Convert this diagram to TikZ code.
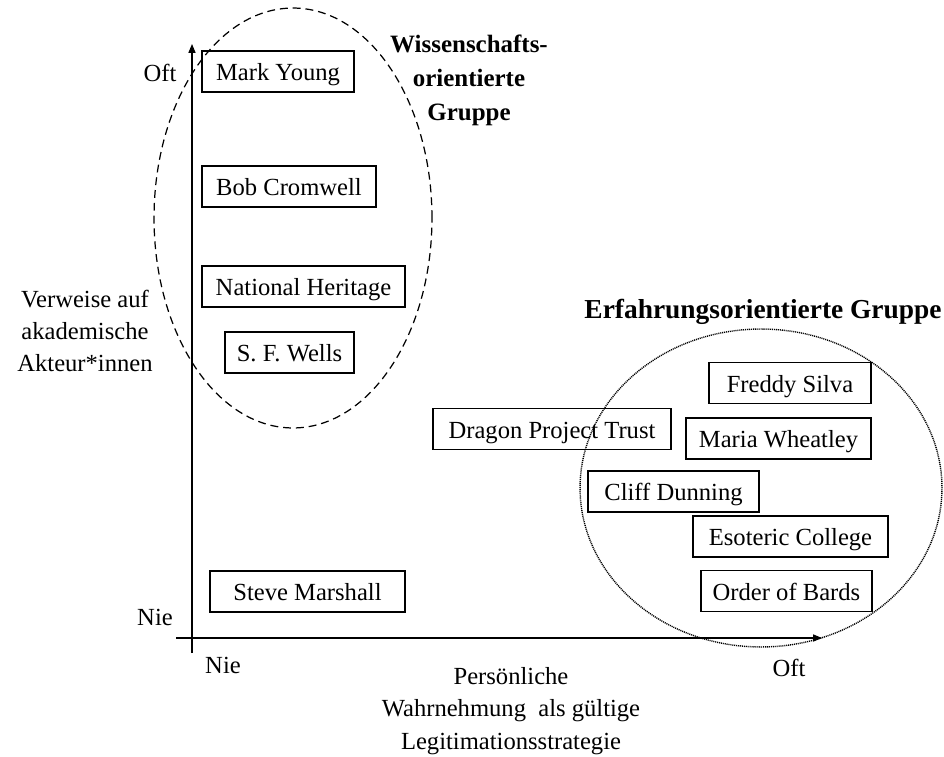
\documentclass[tikz,border=0pt]{standalone}
\usepackage{fontspec}
\setmainfont{Liberation Serif}
\usetikzlibrary{arrows.meta}
\begin{document}
\begin{tikzpicture}[x=0.02cm,y=-0.02cm,
  pbox/.style={draw, line width=0.7pt, inner sep=0pt, minimum height=0.82cm, text height=14pt, text depth=3.2pt, font=\fontsize{14}{18}\selectfont},
  lbl/.style={inner sep=0pt, align=center, font=\fontsize{14}{18.2}\selectfont},
  ttl/.style={inner sep=0pt, align=center, font=\fontsize{14.2}{19.3}\selectfont\bfseries},
  axisline/.style={line width=0.6pt, -{Triangle[length=5pt, width=4pt]}},
  sciring/.style={line width=0.7pt, dash pattern=on 4.5pt off 2.8pt},
  expring/.style={line width=0.8pt, dash pattern=on 0.6pt off 0.5pt}]
\useasboundingbox (0,0) rectangle (944,757);

% axes
\coordinate (ybot) at (192,653);
\coordinate (ytop) at (192,44);
\coordinate (xleft) at (176,638);
\coordinate (xright) at (822,638);
\draw[axisline] (ybot) -- (ytop);
\draw[axisline] (xleft) -- (xright);

% axis labels
\node[lbl] (yoft) at (160,73) {Oft};
\node[lbl] (ynie) at (155,617) {Nie};
\node[lbl] (xnie) at (223,665) {Nie};
\node[lbl] (xoft) at (789,668) {Oft};
\node[lbl] (ytitle) at (85,331) {Verweise auf\\akademische\\Akteur*innen};
\node[lbl, font=\fontsize{14}{18.5}\selectfont] (xtitle) at (511,711) {Persönliche\\Wahrnehmung\ \ als gültige\\Legitimationsstrategie};

% boxes
\node[pbox, minimum width=3.04cm] (my) at (278,71.5) {Mark Young};
\node[pbox, minimum width=3.48cm] (bc) at (289,186.5) {Bob Cromwell};
\node[pbox, minimum width=4.06cm] (nh) at (303.5,286.5) {National Heritage};
\node[pbox, minimum width=2.58cm] (sfw) at (289.5,352.5) {S. F. Wells};
\node[pbox, minimum width=3.90cm] (sm) at (307.5,591.5) {Steve Marshall};
\node[pbox, minimum width=4.76cm] (dpt) at (552,429) {Dragon Project Trust};
\node[pbox, minimum width=3.24cm] (fs) at (790,383) {Freddy Silva};
\node[pbox, minimum width=3.70cm] (mw) at (778.5,438.5) {Maria Wheatley};
\node[pbox, minimum width=3.42cm] (cd) at (673.5,491.5) {Cliff Dunning};
\node[pbox, minimum width=3.90cm] (ec) at (790.5,536.5) {Esoteric College};
\node[pbox, minimum width=3.42cm] (ob) at (786.5,591) {Order of Bards};

% groups
\draw[sciring] (293,218) ellipse [x radius=2.78cm, y radius=4.2cm];
\draw[expring] (761,488) ellipse [x radius=3.62cm, y radius=3.18cm];
\node[ttl] (scit) at (469,80) {Wissenschafts-\\orientierte\\Gruppe};
\node[ttl, font=\fontsize{15.6}{19}\selectfont\bfseries] (expt) at (763,312) {Erfahrungsorientierte Gruppe};
\end{tikzpicture}
\end{document}
